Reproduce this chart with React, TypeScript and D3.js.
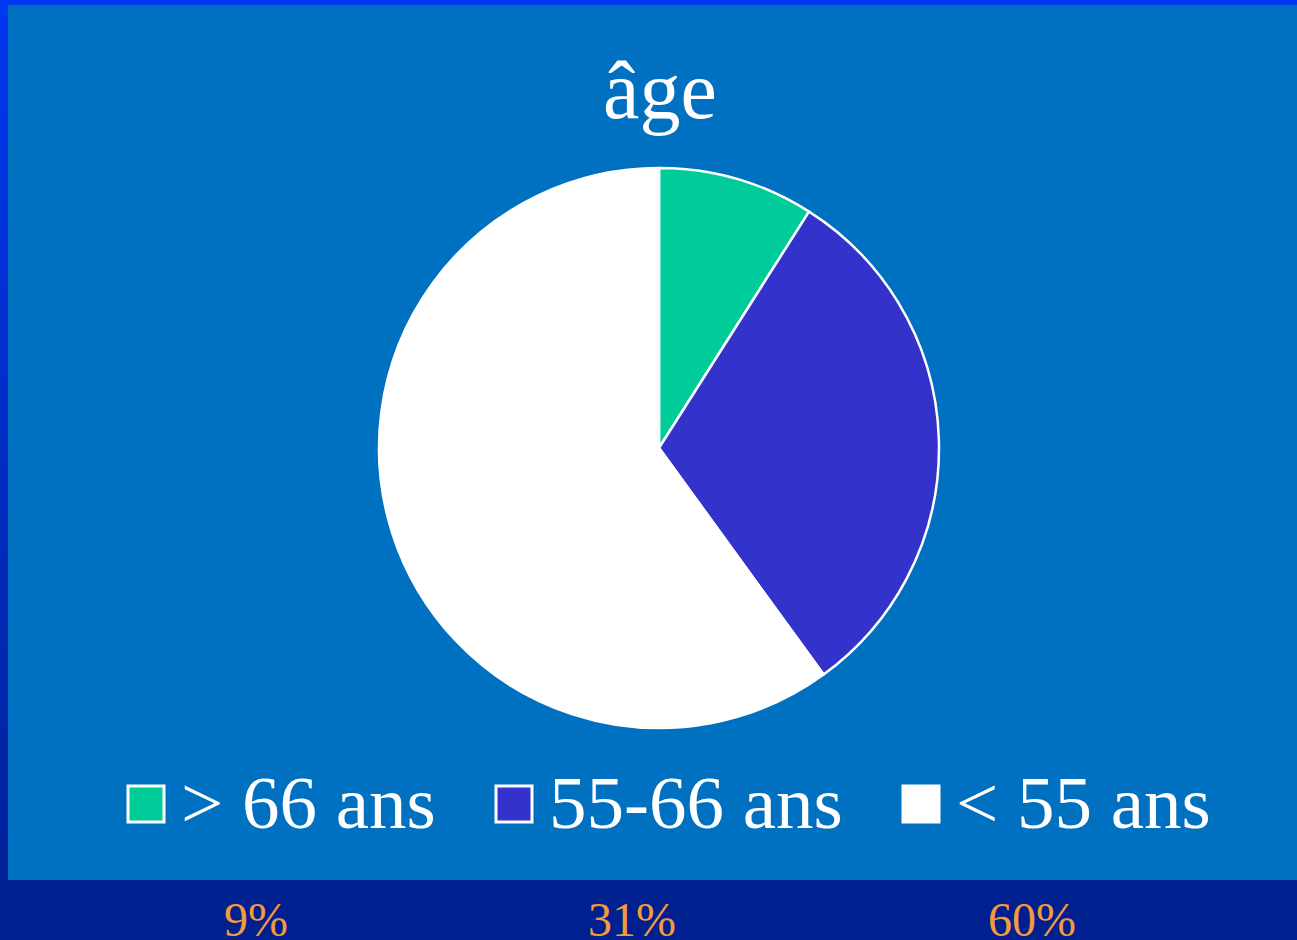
import React from "react";
import * as d3 from "d3";

const title = "âge";
const categories = ["> 66 ans", "55-66 ans", "< 55 ans"];
const values = [9, 31, 60];
const percentLabels = ["9%", "31%", "60%"];
const colors = ["#00CC99", "#3333CC", "#FFFFFF"];

const W = 1297;
const H = 940;

export default function App() {
  const cx = 659;
  const cy = 448;
  const r = 280;
  const pie = d3.pie<number>().sort(null).value((d) => d)(values);
  const arc = d3.arc<d3.PieArcDatum<number>>().innerRadius(0).outerRadius(r);

  const legendX = [127, 495, 902];
  const pctX = [256, 632, 1032];

  return (
    <svg
      width={W}
      height={H}
      style={{ position: "absolute", left: 0, top: 0, display: "block" }}
      fontFamily="'Liberation Serif', 'Times New Roman', serif"
    >
      <defs>
        <linearGradient id="edge" x1="0" y1="0" x2="0" y2="1">
          <stop offset="0" stopColor="#0038F0" />
          <stop offset="0.93" stopColor="#00229A" />
          <stop offset="1" stopColor="#00208F" />
        </linearGradient>
      </defs>
      <rect x={0} y={0} width={W} height={H} fill="url(#edge)" />
      <rect x={8} y={5} width={W - 8} height={875} fill="#0070C0" />
      <rect x={0} y={880} width={W} height={60} fill="#00208F" />

      <text x={660} y={118} textAnchor="middle" fontSize={82} fill="#FFFFFF">
        {title}
      </text>

      <g transform={`translate(${cx},${cy})`}>
        {pie.map((p, i) => (
          <path
            key={i}
            d={arc(p) || ""}
            fill={colors[i]}
            stroke="#FFFFFF"
            strokeWidth={2.5}
            strokeLinejoin="round"
          />
        ))}
      </g>

      {categories.map((c, i) => (
        <g key={c}>
          <rect
            x={legendX[i] + 1}
            y={786}
            width={36}
            height={36}
            fill={colors[i]}
            stroke="#FFFFFF"
            strokeWidth={3}
          />
          <text x={legendX[i] + 54} y={828} fontSize={75} fill="#FFFFFF">
            {c}
          </text>
        </g>
      ))}

      {percentLabels.map((t, i) => (
        <text
          key={t}
          x={pctX[i]}
          y={936}
          textAnchor="middle"
          fontSize={48}
          fill="#F59A3B"
        >
          {t}
        </text>
      ))}
    </svg>
  );
}
